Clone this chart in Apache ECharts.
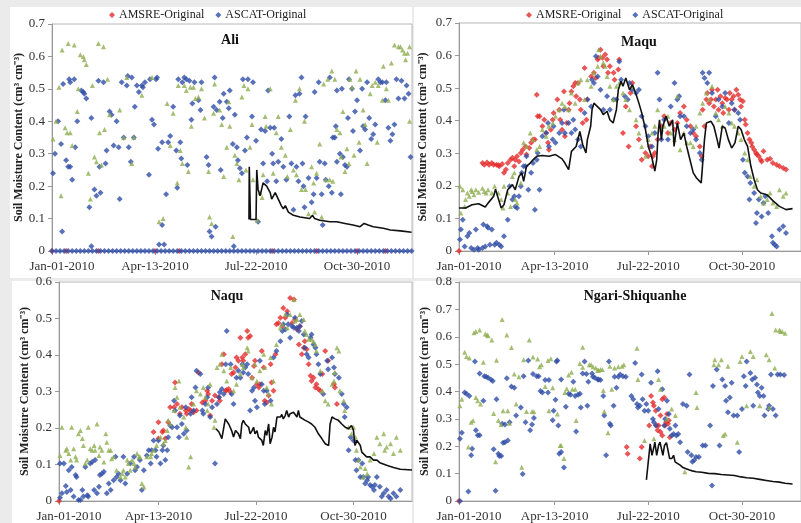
<!DOCTYPE html>
<html>
<head>
<meta charset="utf-8">
<title>Soil moisture 2010</title>
<script src="https://cdn.jsdelivr.net/npm/echarts@6.0.0/dist/echarts.min.js"></script>
<style>
  body { margin: 0; background: #ebebeb; }
  .panel { position: absolute; background: #fff; }
  #main { position: absolute; left: 0; top: 0; width: 801px; height: 523px; }
</style>
</head>
<body>
<div class="panel" style="left:10px;top:7px;width:402px;height:271px"></div>
<div class="panel" style="left:414px;top:7px;width:387px;height:271px"></div>
<div class="panel" style="left:12px;top:281px;width:400px;height:242px"></div>
<div class="panel" style="left:414px;top:281px;width:387px;height:242px"></div>
<div id="main"></div>
<script>
// x = day of year 2010 (0 = Jan-01), y = soil moisture (cm3/cm3)
var tickDays = [0, 102, 202, 302];
var tickLabels = ['Jan-01-2010', 'Apr-13-2010', 'Jul-22-2010', 'Oct-30-2010'];
var stations = ['Ali', 'Maqu', 'Naqu', 'Ngari-Shiquanhe'];
var yMax = [0.7, 0.7, 0.6, 0.8];

// ---- Ali ----
var aliAmsre = [[0,0],[14,0],[46,0],[102,0],[126,0],[218,0],[262,0],[302,0],[330,0]];
var aliAscatZeroDays = [0,4,8,12,16,20,24,28,32,36,40,44,48,52,56,60,64,68,72,76,80,84,88,92,96,100,104,108,112,116,120,124,128,132,136,140,144,148,152,156,160,164,168,172,176,180,184,188,192,196,200,204,208,212,216,220,224,228,232,236,240,244,248,252,256,260,264,268,272,276,280,284,288,292,296,300,304,308,312,316,320,324,328,332,336,340,344,348,352,356];
var aliAscat = [[1,.24],[3,.30],[6,.40],[9,.33],[10,.06],[11,.515],[14,.28],[16,.26],[17,.53],[18,.52],[18,.26],[20,.22],[22,.53],[23,.32],[25,.40],[29,.495],[31,.49],[32,.485],[34,.47],[37,.135],[39,.41],[39,.015],[42,.19],[44,.17],[46,.525],[47,.26],[48,.18],[51,.52],[53,.27],[54,.31],[57,.43],[59,.42],[61,.325],[64,.40],[66,.32],[67,.16],[69,.52],[71,.35],[74,.51],[75,.54],[76,.32],[78,.275],[79,.535],[81,.35],[82,.445],[84,.51],[86,.49],[89,.51],[90,.505],[92,.52],[96,.235],[97,.53],[99,.405],[101,.39],[103,.53],[104,.535],[105,.315],[106,.02],[109,.335],[109,.08],[111,.02],[113,.175],[115,.335],[117,.355],[120,.445],[123,.31],[124,.195],[125,.53],[127,.335],[128,.285],[129,.52],[131,.535],[133,.53],[134,.265],[136,.525],[138,.405],[139,.455],[141,.52],[145,.465],[147,.435],[148,.52],[153,.29],[155,.265],[156,.06],[158,.045],[160,.445],[161,.535],[162,.075],[163,.435],[166,.46],[167,.25],[169,.41],[170,.485],[173,.46],[175,.44],[176,.495],[179,.33],[180,.015],[181,.42],[183,.32],[184,.28],[186,.255],[188,.24],[189,.53],[191,.31],[193,.35],[194,.53],[198,.415],[199,.52],[202,.34],[204,.09],[207,.375],[209,.27],[211,.37],[213,.215],[214,.495],[216,.38],[218,.30],[219,.27],[220,.38],[222,.215],[224,.275],[227,.345],[229,.26],[232,.22],[235,.415],[237,.27],[239,.127],[241,.48],[242,.26],[244,.215],[245,.485],[247,.535],[248,.27],[249,.20],[250,.135],[251,.415],[254,.225],[257,.15],[259,.175],[260,.49],[262,.225],[264,.52],[265,.275],[267,.175],[268,.08],[270,.27],[271,.22],[274,.20],[275,.535],[277,.18],[278,.35],[280,.35],[281,.385],[282,.495],[282,.275],[285,.30],[286,.175],[287,.50],[288,.29],[290,.265],[292,.26],[293,.41],[294,.53],[297,.50],[298,.37],[300,.43],[302,.465],[305,.31],[307,.50],[308,.385],[310,.375],[312,.52],[314,.41],[316,.345],[318,.36],[320,.39],[323,.53],[325,.52],[327,.52],[330,.465],[331,.52],[333,.38],[335,.34],[337,.36],[339,.39],[341,.53],[343,.47],[346,.525],[349,.47],[351,.51],[353,.485],[355,.29]];
var aliThird = [[1,.345],[4,.40],[7,.505],[9,.17],[10,.62],[13,.38],[15,.365],[16,.64],[18,.365],[20,.325],[22,.635],[25,.43],[26,.50],[28,.605],[31,.60],[32,.59],[34,.575],[36,.24],[38,.16],[40,.51],[42,.29],[44,.275],[46,.64],[47,.365],[49,.265],[51,.63],[52,.375],[55,.53],[57,.42],[67,.435],[71,.35],[74,.535],[79,.27],[81,.35],[89,.48],[99,.535],[106,.09],[110,.10],[114,.455],[117,.325],[120,.425],[124,.21],[125,.51],[127,.31],[129,.27],[131,.51],[133,.495],[135,.245],[137,.505],[138,.385],[140,.505],[142,.47],[145,.475],[148,.50],[151,.41],[155,.245],[156,.105],[158,.085],[160,.425],[161,.515],[166,.435],[168,.39],[170,.23],[173,.32],[175,.46],[176,.385],[179,.045],[181,.295],[183,.27],[185,.22],[188,.475],[190,.51],[192,.25],[194,.50],[196,.32],[198,.39],[199,.22],[203,.095],[206,.18],[208,.165],[209,.235],[211,.415],[212,.385],[216,.50],[219,.24],[222,.365],[224,.415],[227,.32],[231,.295],[233,.23],[236,.375],[239,.25],[241,.465],[242,.235],[245,.50],[247,.19],[250,.40],[251,.19],[254,.115],[257,.26],[259,.21],[260,.12],[262,.24],[265,.33],[267,.105],[269,.515],[271,.22],[273,.53],[275,.22],[277,.555],[278,.215],[280,.53],[282,.375],[285,.365],[286,.29],[288,.43],[290,.245],[292,.315],[294,.27],[295,.53],[297,.505],[299,.295],[301,.555],[304,.335],[305,.53],[308,.435],[310,.39],[312,.27],[315,.485],[317,.51],[320,.52],[322,.335],[323,.51],[327,.465],[328,.57],[331,.50],[333,.465],[336,.58],[339,.635],[343,.63],[345,.63],[347,.62],[349,.61],[350,.59],[352,.61],[354,.63],[354,.40]];
var aliInsitu = [[195,.097],[195.3,.26],[196.5,.097],[202,.097],[202.7,.25],[204,.19],[206,.17],[209,.21],[212.5,.20],[216,.18],[217.5,.16],[221,.18],[224,.16],[227,.14],[229,.13],[231,.14],[234,.12],[239,.11],[245.5,.105],[255,.10],[258,.11],[260,.10],[265,.095],[275,.09],[282,.09],[290,.085],[298,.08],[305,.075],[309,.085],[313,.08],[318,.075],[328,.07],[335,.065],[345,.062],[356,.058]];

// ---- Maqu ----
var maquAmsre = [[0,0],[25,.27],[27,.265],[30,.272],[32,.265],[35,.27],[37,.265],[40,.265],[42,.263],[43,.26],[46,.267],[48,.24],[50,.25],[52,.27],[55,.28],[57,.286],[59,.26],[60,.28],[62,.291],[64,.275],[66,.301],[68,.311],[71,.321],[72,.296],[75,.316],[77,.332],[79,.342],[81,.342],[83,.48],[84,.414],[86,.414],[89,.383],[91,.403],[93,.362],[95,.332],[96,.311],[98,.372],[100,.403],[101,.424],[105,.465],[107,.434],[108,.403],[110,.372],[112,.49],[113,.352],[115,.393],[117,.434],[118,.454],[120,.49],[122,.506],[124,.516],[125,.475],[127,.516],[129,.465],[130,.434],[132,.393],[134,.562],[136,.403],[137,.465],[141,.536],[144,.547],[146,.531],[148,.588],[149,.593],[151,.618],[153,.593],[154,.567],[156,.603],[158,.588],[159,.547],[161,.567],[165,.547],[166,.526],[170,.557],[171,.588],[175,.362],[178,.444],[181,.321],[183,.485],[185,.516],[189,.383],[192,.342],[195,.28],[199,.301],[202,.291],[204,.321],[206,.26],[207,.291],[209,.301],[212,.342],[216,.383],[219,.414],[223,.362],[226,.393],[230,.373],[233,.393],[236,.424],[240,.444],[243,.403],[247,.383],[250,.362],[253,.352],[257,.321],[259,.291],[260,.434],[262,.383],[264,.465],[265,.485],[267,.454],[269,.465],[270,.495],[272,.444],[274,.465],[276,.495],[277,.434],[279,.475],[281,.454],[282,.424],[284,.47],[286,.465],[288,.434],[289,.485],[291,.465],[293,.475],[294,.434],[296,.495],[298,.48],[300,.465],[301,.444],[303,.46],[305,.403],[306,.388],[308,.362],[310,.342],[312,.332],[313,.321],[315,.311],[317,.301],[318,.296],[320,.291],[322,.28],[323,.275],[325,.306],[329,.28],[332,.283],[335,.27],[339,.265],[342,.26],[346,.255],[349,.25]];
var maquAscat = [[1,.035],[2,.066],[4,.096],[6,.014],[9,.045],[11,.055],[13,.009],[16,.004],[18,.066],[20,.009],[21,.004],[25,.009],[26,.081],[28,.014],[30,.076],[31,.071],[33,.019],[35,.066],[38,.019],[40,.025],[43,.019],[45,.014],[48,.045],[52,.096],[54,.199],[57,.158],[59,.168],[60,.137],[62,.132],[64,.168],[66,.199],[67,.24],[69,.26],[71,.26],[72,.291],[74,.188],[77,.24],[79,.27],[81,.127],[83,.28],[84,.301],[86,.188],[89,.352],[93,.362],[95,.393],[96,.321],[100,.342],[101,.383],[103,.332],[107,.362],[110,.393],[112,.434],[113,.362],[117,.393],[120,.362],[122,.403],[124,.373],[127,.342],[130,.321],[134,.424],[137,.465],[141,.444],[142,.526],[144,.516],[146,.598],[148,.536],[151,.495],[154,.434],[158,.475],[161,.434],[165,.465],[168,.465],[171,.582],[173,.526],[177,.475],[180,.465],[182,.516],[185,.495],[189,.485],[192,.495],[195,.414],[199,.383],[202,.352],[206,.321],[209,.362],[212,.547],[214,.465],[216,.342],[219,.403],[223,.342],[226,.444],[230,.516],[233,.465],[235,.475],[236,.414],[240,.414],[243,.383],[247,.362],[250,.373],[253,.342],[257,.301],[259,.28],[260,.547],[262,.531],[265,.516],[267,.547],[270,.485],[274,.414],[277,.465],[281,.444],[284,.485],[288,.393],[291,.454],[294,.434],[298,.424],[300,.403],[303,.28],[305,.24],[308,.229],[310,.158],[311,.209],[315,.178],[317,.086],[318,.117],[320,.158],[323,.106],[325,.147],[327,.168],[330,.117],[334,.045],[335,.025],[337,.019],[339,.014],[342,.066],[346,.076],[349,.055]];
var maquThird = [[1,.199],[2,.117],[4,.188],[6,.137],[7,.158],[9,.178],[11,.168],[13,.188],[14,.183],[16,.173],[18,.188],[21,.18],[25,.193],[27,.183],[29,.178],[31,.188],[35,.178],[38,.199],[42,.178],[45,.158],[47,.132],[48,.199],[52,.178],[55,.137],[57,.229],[59,.24],[60,.158],[62,.147],[66,.209],[69,.332],[72,.321],[76,.362],[79,.342],[83,.311],[86,.321],[89,.373],[93,.352],[96,.383],[100,.393],[103,.414],[107,.434],[110,.454],[113,.444],[117,.434],[120,.485],[124,.454],[127,.516],[130,.526],[134,.465],[137,.526],[141,.506],[144,.547],[148,.567],[149,.618],[151,.598],[154,.578],[156,.567],[158,.536],[161,.506],[165,.465],[168,.506],[171,.516],[175,.485],[178,.465],[182,.434],[185,.506],[189,.403],[192,.362],[195,.321],[199,.291],[202,.342],[206,.362],[209,.383],[212,.434],[216,.373],[219,.383],[223,.414],[226,.362],[230,.342],[233,.475],[236,.311],[240,.362],[243,.332],[247,.332],[250,.321],[253,.383],[257,.424],[260,.454],[264,.485],[267,.465],[270,.506],[274,.424],[277,.403],[281,.383],[284,.444],[288,.424],[291,.393],[294,.383],[298,.362],[301,.342],[305,.301],[308,.28],[311,.229],[315,.199],[318,.219],[322,.168],[325,.147],[329,.158],[332,.178],[335,.147],[339,.137],[342,.188],[346,.168],[349,.178]];
var maquInsitu = [[0,.132],[7,.132],[14,.142],[21,.145],[28,.135],[31,.147],[37,.168],[39,.19],[41,.17],[45,.132],[48,.142],[52,.188],[57,.204],[60,.188],[64,.229],[67,.24],[69,.214],[72,.26],[76,.27],[79,.28],[83,.291],[89,.293],[96,.291],[103,.296],[110,.283],[113,.27],[117,.25],[120,.306],[125,.321],[129,.367],[132,.327],[135.5,.301],[137,.342],[140.5,.383],[142,.434],[144,.454],[147.5,.444],[151,.434],[154,.419],[158,.429],[161,.403],[164.5,.393],[168,.434],[170,.495],[173,.521],[175,.506],[178,.531],[182,.495],[185,.511],[188.5,.485],[192,.454],[195,.424],[199,.373],[202,.321],[205.5,.291],[209,.245],[211,.28],[212.5,.362],[214,.403],[216,.342],[217.5,.383],[221,.414],[224.5,.383],[228,.403],[229.5,.321],[233,.393],[236.5,.342],[240,.362],[243,.321],[246.5,.28],[250,.24],[253.5,.224],[258.5,.209],[262,.342],[264,.393],[269,.398],[272,.383],[275.5,.342],[277.5,.316],[281,.383],[284,.378],[287.5,.342],[291,.316],[294.5,.332],[298,.383],[301,.373],[304.5,.342],[308,.321],[311.5,.26],[315,.219],[318.5,.188],[322,.178],[328.5,.173],[335.5,.153],[342,.137],[349,.127],[356,.13]];

// ---- Naqu ----
var naquAmsre = [[0,0],[97,.189],[102,.216],[102,.171],[106,.189],[107,.193],[109,.171],[112,.216],[114,.257],[118,.257],[119,.325],[121,.266],[124,.239],[126,.257],[130,.248],[131,.239],[133,.252],[135,.248],[136,.266],[138,.243],[141,.248],[143,.352],[147,.27],[150,.275],[152,.302],[153,.293],[155,.234],[157,.275],[160,.289],[164,.284],[165,.275],[167,.375],[169,.402],[171,.302],[172,.304],[174,.307],[176,.298],[177,.348],[179,.352],[181,.366],[182,.393],[184,.384],[186,.447],[188,.393],[189,.384],[191,.402],[193,.466],[194,.447],[196,.452],[198,.338],[200,.37],[201,.384],[203,.32],[205,.311],[206,.32],[208,.411],[210,.366],[211,.275],[213,.27],[215,.289],[217,.375],[218,.325],[220,.302],[222,.402],[223,.484],[225,.488],[227,.502],[229,.479],[230,.529],[232,.502],[234,.52],[237,.556],[239,.488],[241,.552],[242,.497],[244,.47],[246,.429],[247,.479],[249,.402],[251,.42],[252,.438],[254,.416],[256,.375],[258,.343],[259,.329],[261,.338],[263,.311],[264,.32],[266,.307],[268,.302],[270,.348],[273,.411],[276,.384],[282,.32],[283,.311],[285,.266]];
var naquAscat = [[1,.009],[1,.103],[3,.021],[5,.103],[7,.041],[8,.025],[10,.084],[12,.03],[13,.093],[15,.012],[17,.071],[18,.066],[20,.003],[22,.003],[24,.03],[25,.012],[27,.093],[29,.016],[30,.012],[32,.103],[34,.107],[36,.03],[37,.112],[39,.021],[41,.039],[42,.071],[44,.075],[46,.08],[49,.021],[51,.048],[53,.03],[56,.057],[58,.121],[59,.066],[61,.075],[63,.057],[66,.121],[68,.048],[70,.075],[73,.103],[77,.121],[78,.084],[80,.093],[83,.112],[85,.03],[87,.084],[90,.125],[92,.139],[94,.103],[95,.139],[97,.166],[99,.139],[100,.121],[102,.166],[104,.103],[106,.139],[107,.152],[109,.112],[111,.139],[112,.175],[114,.207],[116,.202],[118,.275],[119,.248],[121,.202],[123,.175],[124,.234],[126,.211],[128,.184],[130,.257],[131,.193],[135,.239],[136,.284],[138,.248],[140,.311],[141,.357],[145,.348],[147,.248],[148,.239],[150,.266],[152,.284],[153,.311],[155,.23],[157,.257],[160,.103],[162,.266],[164,.284],[165,.298],[167,.307],[169,.293],[171,.375],[172,.466],[176,.375],[177,.293],[179,.266],[182,.338],[184,.357],[186,.338],[188,.375],[189,.352],[191,.366],[193,.375],[194,.348],[196,.248],[198,.302],[200,.311],[201,.275],[203,.257],[206,.384],[208,.32],[210,.302],[211,.266],[213,.302],[217,.275],[220,.393],[223,.411],[227,.438],[229,.466],[230,.484],[232,.47],[234,.511],[235,.484],[237,.447],[239,.479],[241,.475],[242,.502],[244,.475],[246,.466],[247,.479],[249,.493],[251,.456],[252,.42],[254,.402],[256,.393],[258,.447],[259,.456],[261,.429],[263,.42],[264,.402],[266,.375],[268,.348],[271,.293],[275,.384],[276,.361],[280,.393],[282,.366],[283,.348],[287,.338],[290,.293],[292,.266],[293,.23],[295,.257],[297,.139],[299,.175],[302,.166],[304,.112],[305,.084],[307,.112],[309,.066],[311,.103],[312,.066],[314,.048],[316,.057],[317,.066],[319,.044],[321,.039],[323,.03],[324,.044],[326,.066],[329,.039],[331,.012],[333,.021],[336,.03],[338,.012],[340,.007],[343,.021],[346,.012],[350,.03]];
var naquThird = [[1,.125],[3,.202],[7,.139],[8,.143],[10,.13],[12,.112],[13,.202],[15,.143],[17,.121],[18,.112],[20,.184],[22,.193],[24,.171],[25,.152],[27,.103],[29,.112],[30,.202],[32,.143],[34,.139],[36,.152],[37,.139],[39,.211],[41,.125],[42,.148],[44,.139],[46,.107],[48,.184],[49,.161],[51,.139],[53,.139],[54,.116],[56,.121],[59,.084],[63,.066],[65,.075],[66,.084],[68,.066],[70,.112],[71,.103],[73,.084],[75,.112],[77,.103],[78,.093],[80,.13],[82,.121],[83,.121],[85,.048],[87,.039],[90,.121],[94,.121],[95,.13],[97,.139],[100,.152],[104,.175],[107,.157],[109,.166],[111,.193],[112,.221],[114,.211],[118,.248],[119,.311],[121,.284],[123,.329],[124,.257],[128,.23],[130,.202],[131,.175],[133,.093],[135,.121],[138,.266],[141,.302],[145,.293],[148,.311],[150,.284],[152,.248],[153,.266],[155,.32],[159,.202],[160,.221],[162,.366],[165,.375],[167,.402],[169,.357],[172,.329],[176,.366],[179,.302],[182,.32],[186,.348],[188,.375],[189,.366],[193,.42],[194,.411],[198,.338],[201,.375],[203,.329],[206,.357],[210,.402],[211,.366],[213,.311],[215,.293],[217,.393],[218,.266],[220,.329],[223,.429],[227,.475],[229,.484],[232,.511],[234,.475],[237,.511],[241,.552],[242,.493],[244,.497],[247,.511],[251,.497],[252,.466],[254,.456],[256,.443],[259,.443],[261,.438],[263,.429],[264,.411],[268,.357],[270,.302],[273,.275],[276,.266],[280,.32],[282,.329],[283,.352],[285,.42],[287,.411],[288,.302],[292,.275],[293,.248],[297,.202],[300,.184],[302,.202],[304,.175],[305,.139],[307,.112],[309,.093],[312,.066],[314,.089],[316,.075],[319,.112],[323,.13],[326,.175],[329,.157],[333,.184],[334,.139],[336,.148],[340,.157],[343,.13],[346,.175],[350,.139]];
var naquInsitu = [[161,.198],[164,.189],[167,.171],[170.5,.225],[172,.23],[174,.211],[175.5,.202],[177,.193],[179,.175],[181,.193],[182.5,.198],[184,.184],[186,.171],[187.5,.211],[189,.221],[191,.211],[193,.216],[194.5,.202],[196,.184],[198,.193],[199.5,.202],[201,.184],[203,.193],[204.5,.175],[208,.166],[209.5,.152],[211.5,.193],[213,.18],[215,.211],[216.5,.157],[218.5,.175],[220,.202],[221.5,.189],[223.5,.23],[225,.234],[227,.23],[228.5,.237],[230,.225],[232,.234],[233.5,.248],[235.5,.23],[237,.239],[239,.234],[240.5,.243],[242,.239],[244,.23],[245.5,.248],[247,.23],[249,.225],[252.5,.221],[256,.216],[259,.211],[262.5,.202],[266,.184],[269.5,.171],[273,.157],[276.5,.152],[278,.211],[280,.23],[283,.225],[286.5,.221],[290,.211],[293.5,.202],[297,.198],[300,.207],[302,.193],[303.5,.152],[305.5,.166],[309,.152],[310.5,.134],[312,.134],[315.5,.121],[319,.121],[322.5,.112],[326,.112],[329,.105],[336,.098],[343,.092],[350,.087],[362,.085]];

// ---- Ngari-Shiquanhe ----
var ngariAmsre = [[0,0],[179,.197],[180,.173],[193,.155],[195,.197],[203,.276],[205,.384],[207,.36],[208,.348],[210,.33],[211,.276],[212,.258],[213,.276],[215,.312],[215,.252],[217,.372],[217,.239],[219,.378],[220,.276],[221,.288],[222,.318],[223,.282],[224,.294],[225,.233]];
var ngariAscat = [[1,0],[1,.227],[3,.249],[6,.396],[8,.392],[11,.384],[10,.035],[14,.191],[13,.167],[17,.51],[18,.258],[20,.24],[22,.24],[22,.466],[26,.366],[27,.456],[29,.454],[31,.45],[34,.444],[36,.438],[37,.189],[39,.037],[40,.372],[42,.173],[43,.164],[45,.164],[46,.282],[49,.279],[47,.213],[49,.215],[51,.448],[52,.221],[54,.288],[56,.418],[59,.414],[61,.312],[66,.342],[68,.099],[69,.456],[71,.288],[74,.513],[76,.258],[78,.279],[79,.464],[80,.303],[83,.456],[85,.456],[87,.402],[89,.396],[92,.442],[95,.396],[96,.442],[100,.295],[101,.33],[104,.51],[105,.513],[103,.37],[106,.276],[107,.173],[109,.179],[109,.444],[112,.122],[114,.344],[117,.392],[119,.388],[122,.436],[124,.384],[125,.254],[127,.388],[129,.392],[130,.342],[132,.466],[134,.51],[136,.464],[137,.348],[138,.436],[142,.466],[143,.454],[145,.45],[148,.444],[149,.444],[151,.442],[154,.384],[155,.312],[157,.167],[160,.51],[161,.282],[162,.276],[165,.348],[166,.454],[168,.414],[170,.454],[172,.462],[175,.456],[178,.454],[184,.384],[186,.372],[188,.504],[190,.354],[191,.342],[193,.348],[195,.462],[196,.372],[198,.33],[200,.354],[202,.33],[205,.432],[207,.3],[208,.288],[210,.276],[212,.474],[213,.336],[217,.408],[219,.276],[220,.3],[222,.366],[224,.318],[225,.264],[227,.239],[229,.245],[231,.276],[232,.239],[234,.245],[236,.215],[239,.354],[243,.348],[244,.179],[246,.462],[248,.167],[249,.143],[251,.149],[253,.161],[256,.161],[260,.203],[263,.203],[268,.276],[270,.057],[271,.42],[275,.48],[278,.203],[281,.444],[284,.42],[285,.366],[287,.324],[289,.378],[291,.432],[293,.312],[297,.312],[299,.179],[302,.336],[304,.456],[306,.42],[307,.51],[311,.468],[313,.444],[314,.348],[316,.45],[318,.426],[319,.396],[321,.384],[323,.414],[325,.384],[326,.312],[330,.336],[331,.348],[333,.462],[335,.336],[338,.312],[340,.462],[343,.462],[347,.46]];
var ngariThird = [[1,.348],[3,.372],[6,.543],[8,.528],[11,.522],[10,.197],[13,.288],[15,.294],[16,.615],[18,.619],[22,.625],[18,.378],[20,.366],[23,.354],[26,.507],[28,.61],[30,.607],[31,.604],[35,.588],[37,.32],[39,.143],[40,.514],[42,.294],[45,.279],[46,.663],[47,.33],[52,.33],[51,.606],[54,.284],[56,.561],[59,.464],[61,.354],[64,.454],[67,.123],[69,.516],[72,.327],[75,.588],[78,.327],[80,.326],[79,.526],[84,.519],[86,.49],[88,.498],[92,.418],[95,.513],[96,.33],[98,.52],[100,.414],[105,.318],[108,.203],[109,.203],[112,.155],[113,.396],[115,.41],[117,.46],[120,.47],[121,.408],[124,.408],[125,.294],[129,.502],[132,.489],[132,.562],[139,.498],[141,.498],[143,.49],[146,.486],[148,.478],[149,.478],[151,.48],[153,.48],[154,.404],[155,.327],[159,.249],[161,.492],[163,.408],[166,.486],[170,.49],[174,.492],[176,.498],[190,.558],[191,.444],[198,.221],[208,.227],[213,.444],[215,.408],[222,.3],[227,.336],[231,.312],[241,.107],[253,.396],[254,.342],[272,.498],[273,.516],[277,.498],[280,.516],[282,.239],[284,.245],[287,.492],[297,.215],[300,.51],[302,.528],[307,.348],[311,.546],[314,.528],[321,.348],[328,.534],[331,.516],[331,.342],[334,.685],[337,.486],[338,.625],[342,.625],[343,.619],[345,.619],[348,.613]];
var ngariInsitu = [[200,.077],[202,.077],[204,.209],[205,.215],[206,.167],[208,.197],[209,.215],[211,.167],[213,.203],[214.5,.215],[216,.213],[217.6,.167],[219.3,.203],[221.4,.213],[222.7,.191],[224.8,.155],[227,.155],[229,.167],[230.6,.143],[232.3,.137],[236,.131],[239,.122],[243,.117],[246,.113],[249,.11],[253,.107],[259,.105],[266,.101],[273,.1],[280,.097],[287,.095],[294,.093],[301,.088],[307,.085],[314,.083],[321,.079],[328,.075],[335,.071],[342,.069],[348,.065],[356,.062]];

var amsre = [aliAmsre, maquAmsre, naquAmsre, ngariAmsre];
var ascat = [aliAscat.concat(aliAscatZeroDays.map(function (d) { return [d, 0]; })), maquAscat, naquAscat, ngariAscat];
var third = [aliThird, maquThird, naquThird, ngariThird];
var insitu = [aliInsitu, maquInsitu, naquInsitu, ngariInsitu];

var serif = 'Liberation Serif';
var myChart = echarts.init(document.getElementById('main'), null, { renderer: 'canvas' });

// panel layout in pixels (plot areas run past the cropped edges like the source figure)
var grids = [
  { left: 52, top: 24, width: 360, height: 227 },
  { left: 459, top: 23, width: 356, height: 228 },
  { left: 59, top: 282, width: 353, height: 221 },
  { left: 459, top: 282, width: 356, height: 221 }
];
var xMax = [356.4, 365, 362, 365];
var titleX = [225, 634, 222, 630];
var titleY = [28, 30, 284, 284];
var nameGap = [24, 30, 28, 28];

var option = {
  animation: false,
  backgroundColor: 'transparent',
  title: [],
  legend: [],
  grid: [],
  xAxis: [],
  yAxis: [],
  series: []
};

[104, 521].forEach(function (lx) {
  option.legend.push({
    left: lx, top: 4,
    data: ['AMSRE-Original', 'ASCAT-Original'],
    itemWidth: 6, itemHeight: 6, itemGap: 11,
    textStyle: { fontFamily: serif, fontSize: 12, color: '#222', padding: [0, 0, 0, -1] }
  });
});

for (var i = 0; i < 4; i++) {
  option.grid.push(Object.assign({ show: true, borderColor: '#b8b8b8', borderWidth: 1, backgroundColor: 'transparent' }, grids[i]));
  option.title.push({
    text: stations[i], left: titleX[i], top: titleY[i], textAlign: 'center',
    textStyle: { fontFamily: serif, fontSize: 14, fontWeight: 'bold', color: '#111' }
  });
  option.xAxis.push({
    type: 'value', gridIndex: i, min: 0, max: xMax[i],
    axisLine: { lineStyle: { color: '#999' } },
    axisTick: { customValues: tickDays, length: 4, lineStyle: { color: '#999' } },
    splitLine: { show: false },
    axisLabel: {
      customValues: tickDays, margin: 9,
      fontFamily: serif, fontSize: 13, color: '#333',
      formatter: function (v) {
        var k = tickDays.indexOf(v);
        return k === 0 ? '{first|' + tickLabels[0] + '}' : tickLabels[k];
      },
      rich: { first: { padding: [0, 0, 0, 20], fontFamily: serif, fontSize: 13, color: '#333' } }
    }
  });
  option.yAxis.push({
    type: 'value', gridIndex: i, min: 0, max: yMax[i], interval: 0.1,
    name: 'Soil Moisture Content (cm³ cm⁻³)', nameLocation: 'middle', nameGap: nameGap[i],
    nameTextStyle: { fontFamily: serif, fontSize: 12, fontWeight: 'bold', color: '#222' },
    axisLine: { show: true, lineStyle: { color: '#999' } },
    axisTick: { show: true, length: 4, lineStyle: { color: '#999' } },
    splitLine: { show: false },
    axisLabel: {
      margin: 7, fontFamily: serif, fontSize: 13, color: '#333',
      formatter: function (v) { return v === 0 ? '0' : v.toFixed(1); }
    }
  });
  option.series.push({
    name: 'AMSRE-Original', type: 'scatter', xAxisIndex: i, yAxisIndex: i,
    symbol: 'diamond', symbolSize: 6, itemStyle: { color: '#e52a2a' }, data: amsre[i]
  });
  option.series.push({
    name: 'ASCAT-Original', type: 'scatter', xAxisIndex: i, yAxisIndex: i,
    symbol: 'diamond', symbolSize: 6, itemStyle: { color: '#2f4ea6' }, data: ascat[i]
  });
  option.series.push({
    name: 'Third product', type: 'scatter', xAxisIndex: i, yAxisIndex: i,
    symbol: 'triangle', symbolSize: 5, itemStyle: { color: '#8fae50' }, data: third[i]
  });
  option.series.push({
    name: 'In-situ', type: 'line', xAxisIndex: i, yAxisIndex: i,
    showSymbol: false, symbol: 'none', lineStyle: { color: '#111', width: 1.6 }, data: insitu[i]
  });
}

myChart.setOption(option);
</script>
</body>
</html>
